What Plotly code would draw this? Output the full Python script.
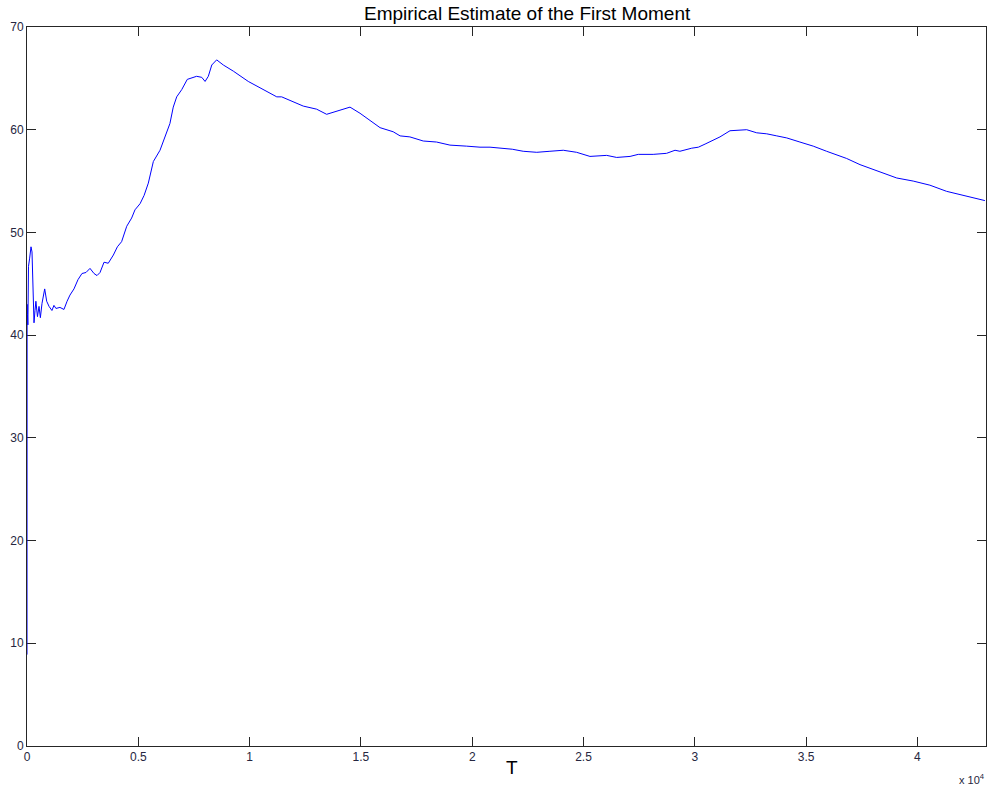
import plotly.graph_objects as go

# Traced series (T = time index, m1 = empirical first moment estimate)
T = [0, 5, 10, 20, 40, 67, 120, 180, 225, 270, 315, 360, 400, 470, 540, 600, 675,
     795, 885, 990, 1120, 1210, 1300, 1480, 1660, 1800, 1930, 2110, 2290, 2470,
     2650, 2830, 3010, 3145, 3280, 3460, 3650, 3880, 4060, 4250, 4480, 4700, 4850,
     5080, 5260, 5450, 5675, 5975, 6200, 6420, 6570, 6725, 6950, 7200, 7620, 7850,
     8000, 8145, 8300, 8520, 8820, 9270, 9940, 10610, 11220, 11440, 11960, 12410,
     13010, 13460, 14060, 14510, 14960, 15630, 15860, 16450, 16760, 17200, 17800,
     18400, 19000, 19750, 20350, 20800, 21250, 21800, 22290, 22900, 23490, 24090,
     24690, 25290, 26040, 26490, 27090, 27460, 28130, 28730, 29110, 29330, 29860,
     30160, 30460, 30760, 31130, 31580, 32030, 32330, 32780, 33230, 33680, 34130,
     34720, 35320, 35920, 36520, 36820, 37420, 38320, 39070, 39810, 40560, 41310,
     42060, 43030]
m1 = [8.9, 43.0, 38.5, 42.0, 41.0, 46.7, 47.5, 48.6, 48.1, 44.4, 41.2, 42.4, 43.3,
      41.8, 42.8, 41.7, 43.1, 44.5, 43.3, 42.8, 42.4, 42.9, 42.6, 42.7, 42.5, 43.3,
      43.9, 44.5, 45.4, 46.0, 46.1, 46.5, 46.0, 45.8, 46.1, 47.1, 47.0, 47.8, 48.6,
      49.1, 50.6, 51.4, 52.2, 52.8, 53.6, 54.8, 56.9, 58.0, 59.3, 60.6, 62.2, 63.2,
      63.9, 64.9, 65.2, 65.1, 64.7, 65.2, 66.3, 66.8, 66.3, 65.7, 64.7, 63.9, 63.2,
      63.2, 62.7, 62.3, 62.0, 61.5, 61.9, 62.2, 61.6, 60.5, 60.2, 59.8, 59.4, 59.3,
      58.9, 58.8, 58.5, 58.4, 58.3, 58.3, 58.2, 58.1, 57.9, 57.8, 57.9, 58.0, 57.8,
      57.4, 57.5, 57.3, 57.4, 57.6, 57.6, 57.7, 58.0, 57.9, 58.2, 58.3, 58.6, 58.9,
      59.3, 59.9, 60.0, 60.0, 59.7, 59.6, 59.4, 59.2, 58.8, 58.4, 57.9, 57.4, 57.2,
      56.6, 55.9, 55.3, 55.0, 54.6, 54.0, 53.6, 53.1]

x_tickvals = [0, 5000, 10000, 15000, 20000, 25000, 30000, 35000, 40000]
x_ticktext = ["0", "0.5", "1", "1.5", "2", "2.5", "3", "3.5", "4"]
y_tickvals = [0, 10, 20, 30, 40, 50, 60, 70]

FONT = "Liberation Sans, Arial"
W, H = 987, 787
L, R, TM, B = 27, 1, 27, 41
plot_w = W - L - R
plot_h = H - TM - B


def px_x(px):  # window pixel -> paper x
    return (px - L) / plot_w


def px_y(py):  # window pixel -> paper y
    return (H - B - py) / plot_h


fig = go.Figure()
fig.add_trace(go.Scatter(x=T, y=m1, mode="lines", cliponaxis=False,
                         line=dict(color="#0000ff", width=1), showlegend=False))

axis_common = dict(showgrid=False, zeroline=False, showline=True, linecolor="#262626",
                   linewidth=1, mirror="ticks", ticks="inside", ticklen=9,
                   tickcolor="#262626", tickwidth=1, automargin=False,
                   layer="below traces",
                   tickfont=dict(family=FONT, size=12, color="#262640"))

fig.update_layout(
    width=W, height=H,
    margin=dict(l=L, r=R, t=TM, b=B),
    paper_bgcolor="white", plot_bgcolor="white",
    xaxis=dict(range=[0, 43080], tickmode="array", tickvals=x_tickvals,
               ticktext=x_ticktext, **axis_common),
    yaxis=dict(range=[0, 70], tickmode="array", tickvals=y_tickvals, **axis_common),
    annotations=[
        dict(text="Empirical Estimate of the First Moment", x=px_x(527), y=px_y(14),
             xref="paper", yref="paper", showarrow=False, xanchor="center",
             yanchor="middle", font=dict(family=FONT, size=19, color="black")),
        dict(text="T", x=px_x(512), y=px_y(767), xref="paper", yref="paper",
             showarrow=False, xanchor="center", yanchor="middle",
             font=dict(family=FONT, size=19, color="black")),
        dict(text="x 10<sup>4</sup>", x=px_x(987), y=px_y(770), xref="paper",
             yref="paper", showarrow=False, xanchor="right", yanchor="top",
             font=dict(family=FONT, size=11, color="#262640")),
    ],
)

# remove the default 8px page margin so the figure fills the window exactly
fig.write_html("out.html", config={"displayModeBar": False},
               post_script="document.body.style.margin='0';document.body.style.overflow='hidden';")
